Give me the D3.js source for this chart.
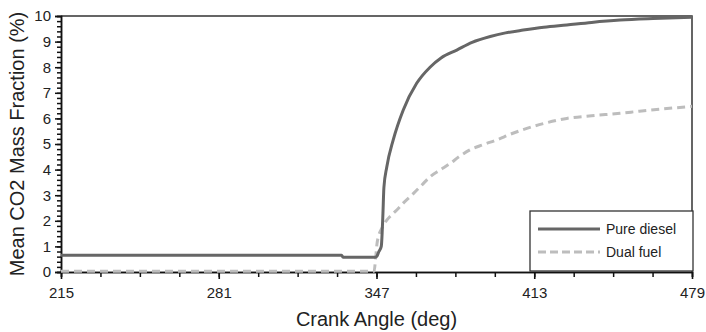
<!DOCTYPE html>
<html>
<head>
<meta charset="utf-8" />
<title></title>
<style>
html, body { margin: 0; padding: 0; background: #fff; }
svg text { font-family: "Liberation Sans", Arial, sans-serif; fill: #222; }
</style>
</head>
<body>
<div id="chart"></div>
<script src="https://cdn.jsdelivr.net/npm/d3@7"></script>
<script>
// values (crank angle in deg, CO2 mass fraction in %)
var dieselAngle = [215, 332.4, 333, 346.5, 347.2, 348, 349, 349.4, 349.7, 350.1, 351.3, 354.0, 358.2, 363.8, 369.4, 374, 380.6, 387, 394.6, 401, 408.4, 417, 426.6, 437, 448.9, 462.7, 479];
var dieselValue = [0.65, 0.65, 0.58, 0.58, 0.62, 0.8, 1.0, 1.6, 2.3, 3.3, 4.1, 5.16, 6.33, 7.37, 8.0, 8.36, 8.67, 8.97, 9.2, 9.34, 9.45, 9.56, 9.65, 9.75, 9.84, 9.9, 9.95];
var dualAngle = [215, 346, 346.6, 347.2, 348, 349.2, 351.3, 353, 355.5, 358.5, 362.5, 366, 369.4, 373.5, 377.8, 381.5, 386.1, 391.5, 397.3, 403.5, 409.9, 417, 426.6, 437, 448.9, 457, 465.6, 479];
var dualValue = [0.03, 0.03, 0.5, 1.1, 1.45, 1.7, 2.03, 2.2, 2.42, 2.72, 3.07, 3.4, 3.72, 3.98, 4.24, 4.5, 4.77, 4.97, 5.16, 5.4, 5.61, 5.8, 6.0, 6.1, 6.2, 6.28, 6.36, 6.47];
var xTicks = [215, 281, 347, 413, 479];
var yTicks = [0, 1, 2, 3, 4, 5, 6, 7, 8, 9, 10];
var seriesNames = ["Pure diesel", "Dual fuel"];

!(function() {
    "use strict"

    var W = 706, H = 332;
    var pl = 61, pr = 692, pt = 16, pb = 272;

    var svg = d3.select("#chart").append("svg")
        .attr("width", W).attr("height", H);

    var x = d3.scaleLinear().domain([215, 479]).range([pl, pr]);
    var y = d3.scaleLinear().domain([0, 10]).range([pb, pt]);

    // frame (top and right)
    svg.append("path")
        .attr("d", "M" + pl + "," + pt + "H" + pr + "V" + pb)
        .attr("fill", "none").attr("stroke", "#333").attr("stroke-width", 1.5);

    // y axis with minor ticks every 0.2
    var yMinor = d3.range(0, 10.01, 0.2);
    svg.append("g").attr("transform", "translate(" + pl + ",0)")
        .call(d3.axisLeft(y).tickValues(yMinor).tickSize(4).tickFormat(""))
        .call(function(g) { g.selectAll("path,line").attr("stroke", "#111").attr("stroke-width", 1.5); });
    var yAx = svg.append("g").attr("transform", "translate(" + pl + ",0)")
        .call(d3.axisLeft(y).tickValues(yTicks).tickSize(6).tickPadding(4).tickFormat(d3.format("d")));
    yAx.selectAll("path,line").attr("stroke", "#111").attr("stroke-width", 1.5);
    yAx.selectAll("text").style("font-size", "15px").attr("fill", "#222");

    // x axis, minor ticks every 16.5
    var xMinor = d3.range(215, 479.1, 16.5);
    svg.append("g").attr("transform", "translate(0," + pb + ")")
        .call(d3.axisBottom(x).tickValues(xMinor).tickSize(5).tickFormat(""))
        .call(function(g) { g.selectAll("path,line").attr("stroke", "#111").attr("stroke-width", 1.5); });
    var xAx = svg.append("g").attr("transform", "translate(0," + pb + ")")
        .call(d3.axisBottom(x).tickValues(xTicks).tickSize(7).tickPadding(8).tickSizeOuter(0));
    xAx.selectAll("path,line").attr("stroke", "#111").attr("stroke-width", 1.6);
    xAx.selectAll("text").style("font-size", "15px").attr("fill", "#222");

    var line = d3.line()
        .x(function(d) { return x(d[0]); })
        .y(function(d) { return y(d[1]); })
        .curve(d3.curveMonotoneX);

    svg.append("path")
        .datum(dualAngle.map(function(a, i) { return [a, dualValue[i]]; }))
        .attr("d", line)
        .attr("fill", "none").attr("stroke", "#bdbdbd").attr("stroke-width", 3)
        .attr("stroke-dasharray", "8,5");

    svg.append("path")
        .datum(dieselAngle.map(function(a, i) { return [a, dieselValue[i]]; }))
        .attr("d", line)
        .attr("fill", "none").attr("stroke", "#666").attr("stroke-width", 3);

    // legend
    var lg = svg.append("g").attr("transform", "translate(530,211)");
    lg.append("rect").attr("width", 163).attr("height", 60)
        .attr("fill", "#fff").attr("stroke", "#333").attr("stroke-width", 1.3);
    seriesNames.forEach(function(name, i) {
        var yy = 18 + i * 23;
        lg.append("line").attr("x1", 8).attr("x2", 70).attr("y1", yy).attr("y2", yy)
            .attr("stroke", i === 0 ? "#666" : "#bdbdbd").attr("stroke-width", 3)
            .attr("stroke-dasharray", i === 0 ? null : "8,4");
        lg.append("text").attr("x", 76).attr("y", yy + 5).style("font-size", "14px").text(name);
    });

    // axis titles
    svg.append("text").attr("x", (pl + pr) / 2).attr("y", 326)
        .attr("text-anchor", "middle").style("font-size", "20px").text("Crank Angle (deg)");
    svg.append("text").attr("transform", "translate(24," + ((pt + pb) / 2) + ") rotate(-90)")
        .attr("text-anchor", "middle").style("font-size", "20px").text("Mean CO2 Mass Fraction (%)");
}());
</script>
</body>
</html>
